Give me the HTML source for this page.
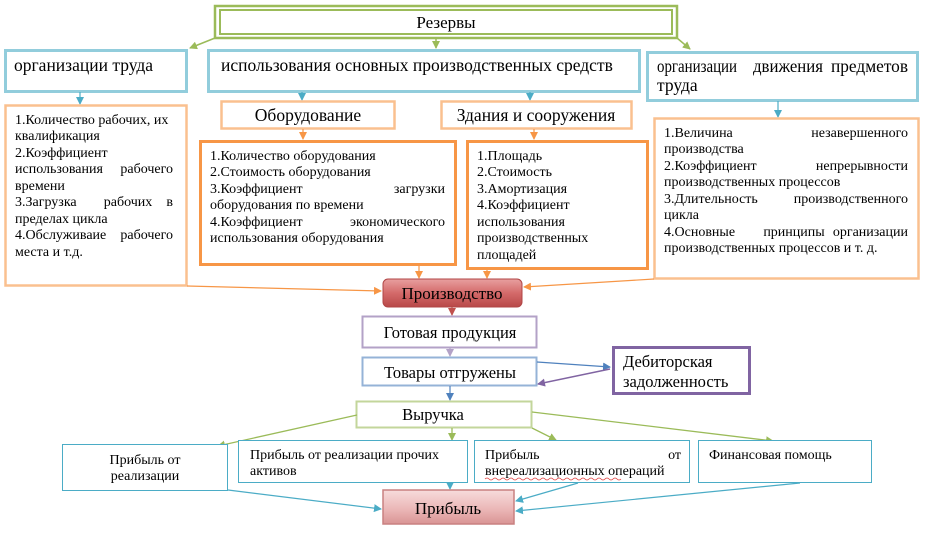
<!DOCTYPE html>
<html><head><meta charset="utf-8"><style>
body{margin:0;background:#fff}
svg text{font-family:"Liberation Serif","DejaVu Serif",serif;fill:#000}
</style></head><body>
<svg width="928" height="531" viewBox="0 0 928 531" xmlns="http://www.w3.org/2000/svg">
<defs>
<marker id="ag" markerWidth="8" markerHeight="8" refX="7" refY="4" orient="auto" markerUnits="userSpaceOnUse"><path d="M0,0L8,4L0,8z" fill="#9bbb59"/></marker>
<marker id="ab" markerWidth="8" markerHeight="8" refX="7" refY="4" orient="auto" markerUnits="userSpaceOnUse"><path d="M0,0L8,4L0,8z" fill="#4bacc6"/></marker>
<marker id="ao" markerWidth="8" markerHeight="8" refX="7" refY="4" orient="auto" markerUnits="userSpaceOnUse"><path d="M0,0L8,4L0,8z" fill="#f79646"/></marker>
<marker id="ar" markerWidth="8" markerHeight="8" refX="7" refY="4" orient="auto" markerUnits="userSpaceOnUse"><path d="M0,0L8,4L0,8z" fill="#c0504d"/></marker>
<marker id="ap" markerWidth="8" markerHeight="8" refX="7" refY="4" orient="auto" markerUnits="userSpaceOnUse"><path d="M0,0L8,4L0,8z" fill="#b3a2c7"/></marker>
<marker id="apd" markerWidth="8" markerHeight="8" refX="7" refY="4" orient="auto" markerUnits="userSpaceOnUse"><path d="M0,0L8,4L0,8z" fill="#8064a2"/></marker>
<marker id="abl" markerWidth="8" markerHeight="8" refX="7" refY="4" orient="auto" markerUnits="userSpaceOnUse"><path d="M0,0L8,4L0,8z" fill="#4f81bd"/></marker>
<linearGradient id="gr" x1="0" y1="0" x2="0" y2="1"><stop offset="0" stop-color="#e8a0a0"/><stop offset="0.5" stop-color="#d46a6a"/><stop offset="1" stop-color="#b84848"/></linearGradient>
<linearGradient id="gp" x1="0" y1="0" x2="0" y2="1"><stop offset="0" stop-color="#f7dcdc"/><stop offset="0.6" stop-color="#eab4b4"/><stop offset="1" stop-color="#d99494"/></linearGradient>
</defs>

<rect x="215" y="6" width="462" height="32" fill="#fff" stroke="#9bbb59" stroke-width="2.5"/>
<rect x="220" y="10" width="452" height="24" fill="none" stroke="#9bbb59" stroke-width="2"/>
<text x="446" y="28" font-size="17" text-anchor="middle">Резервы</text>
<line x1="215" y1="38" x2="190" y2="48" stroke="#9bbb59" stroke-width="1.5" marker-end="url(#ag)"/>
<line x1="436" y1="38" x2="436" y2="48" stroke="#9bbb59" stroke-width="1.5" marker-end="url(#ag)"/>
<line x1="677" y1="38" x2="690" y2="49" stroke="#9bbb59" stroke-width="1.5" marker-end="url(#ag)"/>

<rect x="5.5" y="50.5" width="181" height="41" fill="#fff" stroke="#92cddc" stroke-width="3"/>
<text x="14" y="71" font-size="17.5">организации труда</text>
<rect x="208.5" y="50.5" width="431" height="41" fill="#fff" stroke="#92cddc" stroke-width="3"/>
<text x="221" y="71" font-size="17.5">использования основных производственных средств</text>
<rect x="647.5" y="52.5" width="270" height="48" fill="#fff" stroke="#92cddc" stroke-width="3"/>
<g font-size="17.5">
<text x="657" y="72" textLength="80" lengthAdjust="spacingAndGlyphs">организации</text>
<text x="753" y="72" textLength="70" lengthAdjust="spacingAndGlyphs">движения</text>
<text x="831" y="72" textLength="77" lengthAdjust="spacingAndGlyphs">предметов</text>
<text x="657" y="91">труда</text>
</g>

<line x1="80" y1="92" x2="80" y2="104" stroke="#4bacc6" stroke-width="1.2" marker-end="url(#ab)"/>
<line x1="302" y1="92" x2="302" y2="100" stroke="#4bacc6" stroke-width="1.2" marker-end="url(#ab)"/>
<line x1="530" y1="92" x2="530" y2="100" stroke="#4bacc6" stroke-width="1.2" marker-end="url(#ab)"/>
<line x1="778" y1="101" x2="778" y2="117" stroke="#4bacc6" stroke-width="1.2" marker-end="url(#ab)"/>

<rect x="5.5" y="105.5" width="181" height="180" fill="#fff" stroke="#fac08f" stroke-width="2.5"/>
<g font-size="14">
<text x="15" y="124">1.Количество рабочих, их</text>
<text x="15" y="140">квалификация</text>
<text x="15" y="157">2.Коэффициент</text>
<text x="15" y="173">использования</text><text x="173" y="173" text-anchor="end">рабочего</text>
<text x="15" y="190">времени</text>
<text x="15" y="206">3.Загрузка</text><text x="128" y="206" text-anchor="middle">рабочих</text><text x="173" y="206" text-anchor="end">в</text>
<text x="15" y="223">пределах цикла</text>
<text x="15" y="239">4.Обслуживаие</text><text x="173" y="239" text-anchor="end">рабочего</text>
<text x="15" y="256">места и т.д.</text>
</g>

<rect x="221.5" y="101.5" width="173" height="27" fill="#fff" stroke="#fac08f" stroke-width="2.5"/>
<text x="308" y="121" font-size="17.5" text-anchor="middle">Оборудование</text>
<rect x="441.5" y="101.5" width="190" height="27" fill="#fff" stroke="#fac08f" stroke-width="2.5"/>
<text x="536" y="121" font-size="17.5" text-anchor="middle">Здания и сооружения</text>
<line x1="303" y1="129" x2="303" y2="139" stroke="#f79646" stroke-width="1.2" marker-end="url(#ao)"/>
<line x1="534" y1="129" x2="534" y2="139" stroke="#f79646" stroke-width="1.2" marker-end="url(#ao)"/>

<rect x="200.5" y="141.5" width="255" height="123" fill="#fff" stroke="#f79646" stroke-width="3"/>
<g font-size="14">
<text x="210" y="160">1.Количество оборудования</text>
<text x="210" y="176">2.Стоимость оборудования</text>
<text x="210" y="193">3.Коэффициент</text><text x="445" y="193" text-anchor="end">загрузки</text>
<text x="210" y="209">оборудования по времени</text>
<text x="210" y="226">4.Коэффициент</text><text x="445" y="226" text-anchor="end">экономического</text>
<text x="210" y="242">использования оборудования</text>
</g>
<rect x="467.5" y="141.5" width="180" height="127" fill="#fff" stroke="#f79646" stroke-width="3"/>
<g font-size="14">
<text x="477" y="160">1.Площадь</text>
<text x="477" y="176">2.Стоимость</text>
<text x="477" y="193">3.Амортизация</text>
<text x="477" y="209">4.Коэффициент</text>
<text x="477" y="226">использования</text>
<text x="477" y="242">производственных</text>
<text x="477" y="259">площадей</text>
</g>

<rect x="654.5" y="118.5" width="264" height="160" fill="#fff" stroke="#fac08f" stroke-width="2.5"/>
<g font-size="14">
<text x="664" y="137">1.Величина</text><text x="908" y="137" text-anchor="end">незавершенного</text>
<text x="664" y="153">производства</text>
<text x="664" y="170">2.Коэффициент</text><text x="908" y="170" text-anchor="end">непрерывности</text>
<text x="664" y="186">производственных процессов</text>
<text x="664" y="203">3.Длительность</text><text x="908" y="203" text-anchor="end">производственного</text>
<text x="664" y="219">цикла</text>
<text x="664" y="236">4.Основные</text><text x="794" y="236" text-anchor="middle">принципы</text><text x="908" y="236" text-anchor="end">организации</text>
<text x="664" y="252">производственных процессов и т. д.</text>
</g>

<line x1="187" y1="286" x2="381" y2="291" stroke="#f79646" stroke-width="1.2" marker-end="url(#ao)"/>
<line x1="419" y1="265" x2="419" y2="278" stroke="#f79646" stroke-width="1.2" marker-end="url(#ao)"/>
<line x1="487" y1="269" x2="487" y2="278" stroke="#f79646" stroke-width="1.2" marker-end="url(#ao)"/>
<line x1="654" y1="279" x2="524" y2="287" stroke="#f79646" stroke-width="1.2" marker-end="url(#ao)"/>

<rect x="383" y="279" width="139" height="28" rx="5" fill="url(#gr)" stroke="#b04545" stroke-width="1"/>
<text x="452" y="299" font-size="17" text-anchor="middle">Производство</text>
<line x1="452" y1="307" x2="452" y2="315" stroke="#c0504d" stroke-width="1.2" marker-end="url(#ar)"/>

<rect x="362.5" y="316.5" width="174" height="31" fill="#fff" stroke="#b3a2c7" stroke-width="2"/>
<text x="450" y="338" font-size="16.5" text-anchor="middle">Готовая продукция</text>
<line x1="450" y1="348" x2="450" y2="356" stroke="#b3a2c7" stroke-width="1.2" marker-end="url(#ap)"/>

<rect x="362.5" y="357.5" width="174" height="28" fill="#fff" stroke="#95b3d7" stroke-width="2"/>
<text x="450" y="378" font-size="16.5" text-anchor="middle">Товары отгружены</text>
<line x1="537" y1="362" x2="610" y2="367" stroke="#4f81bd" stroke-width="1.2" marker-end="url(#abl)"/>
<line x1="610" y1="369" x2="538" y2="384" stroke="#8064a2" stroke-width="1.5" marker-end="url(#apd)"/>
<rect x="613.5" y="347.5" width="136" height="46" fill="#fff" stroke="#8064a2" stroke-width="3"/>
<text x="623" y="367" font-size="16.5">Дебиторская</text>
<text x="623" y="387" font-size="16.5">задолженность</text>
<line x1="450" y1="386" x2="450" y2="400" stroke="#4f81bd" stroke-width="1.2" marker-end="url(#abl)"/>

<rect x="356.5" y="401.5" width="175" height="26" fill="#fff" stroke="#c3d69b" stroke-width="2"/>
<text x="433" y="420" font-size="16.5" text-anchor="middle">Выручка</text>
<line x1="357" y1="415" x2="218" y2="446" stroke="#9bbb59" stroke-width="1.3" marker-end="url(#ag)"/>
<line x1="452" y1="428" x2="452" y2="440" stroke="#9bbb59" stroke-width="1.3" marker-end="url(#ag)"/>
<line x1="532" y1="428" x2="556" y2="440" stroke="#9bbb59" stroke-width="1.3" marker-end="url(#ag)"/>
<line x1="532" y1="412" x2="773" y2="441" stroke="#9bbb59" stroke-width="1.3" marker-end="url(#ag)"/>

<rect x="62.5" y="444.5" width="165" height="46" fill="#fff" stroke="#4bacc6" stroke-width="1"/>
<text x="145" y="464" font-size="14" text-anchor="middle">Прибыль от</text>
<text x="145" y="480" font-size="14" text-anchor="middle">реализации</text>
<rect x="238.5" y="440.5" width="229" height="42" fill="#fff" stroke="#4bacc6" stroke-width="1"/>
<text x="250" y="459" font-size="14">Прибыль от реализации прочих</text>
<text x="250" y="475" font-size="14">активов</text>
<rect x="474.5" y="440.5" width="215" height="42" fill="#fff" stroke="#4bacc6" stroke-width="1"/>
<text x="485" y="459" font-size="14">Прибыль</text><text x="681" y="459" font-size="14" text-anchor="end">от</text>
<text x="485" y="475" font-size="14">внереализационных операций</text>
<path d="M485 479 q2 -2 4 0 t4 0 t4 0 t4 0 t4 0 t4 0 t4 0 t4 0 t4 0 t4 0 t4 0 t4 0 t4 0 t4 0 t4 0 t4 0 t4 0 t4 0 t4 0 t4 0 t4 0 t4 0 t4 0 t4 0 t4 0 t4 0 t4 0 t4 0 t4 0 t4 0 t4 0 t4 0 t4 0 t4 0" fill="none" stroke="#e04040" stroke-width="0.8"/>
<rect x="698.5" y="440.5" width="173" height="42" fill="#fff" stroke="#4bacc6" stroke-width="1"/>
<text x="709" y="459" font-size="14">Финансовая помощь</text>

<line x1="228" y1="490" x2="381" y2="509" stroke="#4bacc6" stroke-width="1.2" marker-end="url(#ab)"/>
<line x1="450" y1="483" x2="450" y2="489" stroke="#4bacc6" stroke-width="1.2" marker-end="url(#ab)"/>
<line x1="578" y1="483" x2="516" y2="501" stroke="#4bacc6" stroke-width="1.2" marker-end="url(#ab)"/>
<line x1="800" y1="483" x2="516" y2="511" stroke="#4bacc6" stroke-width="1.2" marker-end="url(#ab)"/>

<rect x="383" y="490" width="131" height="34" fill="url(#gp)" stroke="#c98080" stroke-width="1.5"/>
<text x="448" y="514" font-size="17" text-anchor="middle">Прибыль</text>
</svg>
</body></html>
